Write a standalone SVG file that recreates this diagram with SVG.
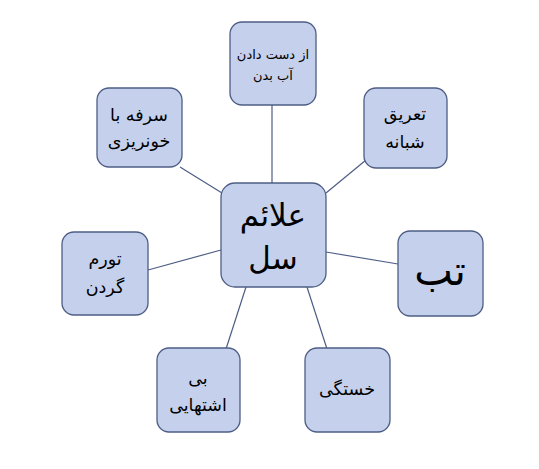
<svg xmlns="http://www.w3.org/2000/svg" width="539" height="469" viewBox="0 0 539 469">
<style>
.box{fill:#c5d1ec;stroke:#4d5d85;stroke-width:1.3}
.ln{stroke:#4d5d85;stroke-width:1.2;fill:none}
text{font-family:"DejaVu Sans","Liberation Sans",sans-serif;fill:#000;text-anchor:middle;direction:rtl}
.s{font-size:17.5px}
.xs{font-size:13px}
</style>
<rect width="539" height="469" fill="#fff"/>
<g id="connectors">
<line class="ln" x1="272" y1="105" x2="272" y2="183"/>
<line class="ln" x1="180" y1="167" x2="222" y2="193"/>
<line class="ln" x1="366" y1="160" x2="326" y2="193"/>
<line class="ln" x1="148" y1="270" x2="221" y2="250"/>
<line class="ln" x1="326" y1="252" x2="398" y2="264"/>
<line class="ln" x1="226" y1="349" x2="246" y2="287"/>
<line class="ln" x1="327" y1="349" x2="307" y2="287"/>
</g>
<g id="n-top"><rect class="box" x="230" y="22" width="86" height="83" rx="12"/><text class="xs" x="273" y="59">از دست دادن</text><text class="xs" x="273" y="80">آب بدن</text></g>
<g id="n-sorfe"><rect class="box" x="97" y="88" width="85" height="79" rx="12"/><text class="s" x="139" y="121">سرفه با</text><text class="s" x="139" y="147">خونریزی</text></g>
<g id="n-tarigh"><rect class="box" x="364" y="88" width="83" height="80" rx="12"/><text class="s" x="405" y="120">تعریق</text><text class="s" x="405" y="148">شبانه</text></g>
<g id="n-center"><rect class="box" x="221" y="183" width="105" height="104" rx="14"/><text x="273" y="226" style="font-size:31px">علائم</text><text x="273" y="269" style="font-size:31px">سل</text></g>
<g id="n-tab"><rect class="box" x="398" y="231" width="85" height="85" rx="12"/><text x="440" y="285" style="font-size:41px">تب</text></g>
<g id="n-tavarrom"><rect class="box" x="62" y="232" width="86" height="83" rx="12"/><text class="s" x="105" y="265">تورم</text><text class="s" x="105" y="293">گردن</text></g>
<g id="n-bi"><rect class="box" x="157" y="348" width="83" height="84" rx="12"/><text class="s" x="198" y="384">بی</text><text class="s" x="198" y="411">اشتهایی</text></g>
<g id="n-khastegi"><rect class="box" x="305" y="348" width="85" height="84" rx="12"/><text class="s" x="347" y="395">خستگی</text></g>
</svg>
